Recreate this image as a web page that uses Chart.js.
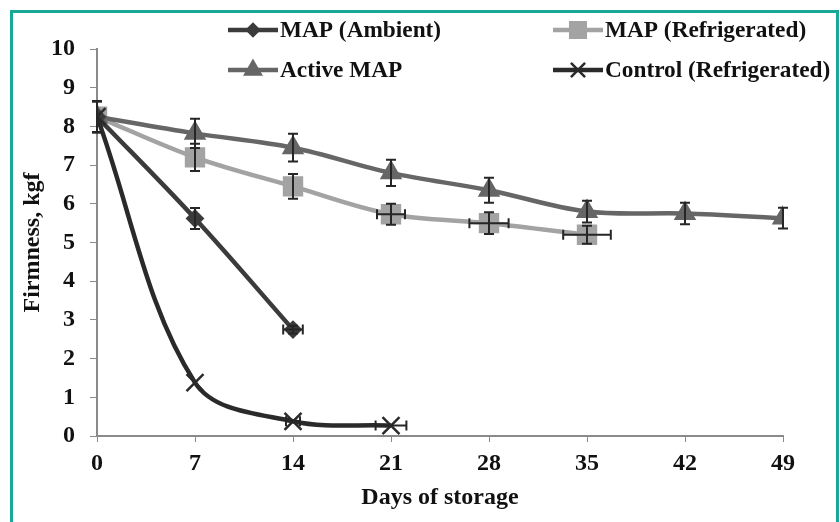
<!DOCTYPE html>
<html>
<head>
<meta charset="utf-8">
<script src="https://cdn.jsdelivr.net/npm/chart.js@4/dist/chart.umd.min.js"></script>
<style>
html,body{margin:0;padding:0;background:#fff;}
#wrap{position:relative;width:840px;height:522px;}
</style>
</head>
<body>
<div id="wrap"><canvas id="c" width="840" height="522"></canvas></div>
<script>
// ---- data ----
const xTicks = [0, 7, 14, 21, 28, 35, 42, 49];
const seriesNames = ["MAP (Ambient)", "MAP (Refrigerated)", "Active MAP", "Control (Refrigerated)"];

const ambientDays = [0, 7, 14];
const ambientFirm = [8.25, 5.62, 2.75];
const ambientYErr = [0.4, 0.27, 0.1];
const ambientXErr = [0, 0, 0.7];

const refrigDays = [0, 7, 14, 21, 28, 35];
const refrigFirm = [8.25, 7.2, 6.45, 5.73, 5.5, 5.2];
const refrigYErr = [0.4, 0.35, 0.32, 0.27, 0.28, 0.23];
const refrigXErr = [0, 0, 0, 1.0, 1.4, 1.7];

const activeDays = [0, 7, 14, 21, 28, 35, 42, 49];
const activeFirm = [8.25, 7.82, 7.45, 6.8, 6.35, 5.8, 5.75, 5.63];
const activeYErr = [0.4, 0.38, 0.36, 0.34, 0.32, 0.28, 0.28, 0.27];
const activeXErr = [0, 0, 0, 0, 0, 0, 0, 0];

const controlDays = [0, 7, 14, 21];
const controlFirm = [8.25, 1.38, 0.38, 0.27];
const controlYErr = [0.4, 0, 0, 0];
const controlXErr = [0, 0, 0.5, 1.1];

function pts(xs, ys) { return xs.map((x, i) => ({x: x, y: ys[i]})); }

const FONT = "'Liberation Serif', 'Times New Roman', serif";

const datasets = [
  {label: seriesNames[0], data: pts(ambientDays, ambientFirm), yErr: ambientYErr, xErr: ambientXErr,
   borderColor: '#3b3b3b', backgroundColor: '#3b3b3b', pointStyle: 'rectRot', pointRadius: 8, order: 1},
  {label: seriesNames[1], data: pts(refrigDays, refrigFirm), yErr: refrigYErr, xErr: refrigXErr,
   borderColor: '#a3a3a3', backgroundColor: '#a3a3a3', pointStyle: 'rect', pointRadius: 13, order: 3},
  {label: seriesNames[2], data: pts(activeDays, activeFirm), yErr: activeYErr, xErr: activeXErr,
   borderColor: '#666666', backgroundColor: '#666666', pointStyle: 'triangle', pointRadius: 11, order: 2},
  {label: seriesNames[3], data: pts(controlDays, controlFirm), yErr: controlYErr, xErr: controlXErr,
   borderColor: '#2a2a2a', backgroundColor: '#2a2a2a', pointStyle: 'crossRot', pointRadius: 12, order: 0}
];
datasets.forEach(d => {
  d.borderWidth = 4.5;
  d.pointBorderWidth = d.pointStyle === 'crossRot' ? 2.5 : 2;
  d.tension = 0.35;
  d.fill = false;
  d.pointBorderColor = d.borderColor;
  d.pointBackgroundColor = d.backgroundColor;
});

const errorBars = {
  id: 'errorBars',
  afterDatasetsDraw(chart) {
    const ctx = chart.ctx, xs = chart.scales.x, ys = chart.scales.y;
    ctx.save();
    ctx.strokeStyle = '#262626';
    ctx.lineWidth = 2;
    chart.data.datasets.forEach(ds => {
      ds.data.forEach((p, i) => {
        const px = xs.getPixelForValue(p.x), py = ys.getPixelForValue(p.y);
        const ye = ds.yErr[i] || 0, xe = ds.xErr[i] || 0;
        if (ye > 0) {
          const t = ys.getPixelForValue(p.y + ye), b = ys.getPixelForValue(p.y - ye);
          ctx.beginPath();
          ctx.moveTo(px, t); ctx.lineTo(px, b);
          ctx.moveTo(px - 5, t); ctx.lineTo(px + 5, t);
          ctx.moveTo(px - 5, b); ctx.lineTo(px + 5, b);
          ctx.stroke();
        }
        if (xe > 0) {
          const l = xs.getPixelForValue(p.x - xe), r = xs.getPixelForValue(p.x + xe);
          ctx.beginPath();
          ctx.moveTo(l, py); ctx.lineTo(r, py);
          ctx.moveTo(l, py - 5); ctx.lineTo(l, py + 5);
          ctx.moveTo(r, py - 5); ctx.lineTo(r, py + 5);
          ctx.stroke();
        }
      });
    });
    ctx.restore();
  }
};

const legendPos = [[228, 30], [553, 30], [228, 70], [553, 70]];
const customLegend = {
  id: 'customLegend',
  afterDraw(chart) {
    const ctx = chart.ctx;
    ctx.save();
    chart.data.datasets.forEach((ds, i) => {
      const [x, y] = legendPos[i];
      ctx.strokeStyle = ds.borderColor;
      ctx.lineWidth = 4.5;
      ctx.beginPath(); ctx.moveTo(x, y); ctx.lineTo(x + 50, y); ctx.stroke();
      const r = Math.max(6, ds.pointRadius - 2);
      ctx.fillStyle = ds.backgroundColor;
      ctx.strokeStyle = ds.borderColor;
      ctx.lineWidth = 2.5;
      if (Chart.helpers && Chart.helpers.drawPoint) {
        Chart.helpers.drawPoint(ctx, {pointStyle: ds.pointStyle, radius: r, borderWidth: 2.5, rotation: 0}, x + 25, y);
      }
      ctx.fillStyle = '#111';
      ctx.font = 'bold 23.3px ' + FONT;
      ctx.textAlign = 'left';
      ctx.textBaseline = 'middle';
      ctx.fillText(ds.label, x + 52, y + 1);
    });
    // teal frame
    ctx.strokeStyle = '#17a898';
    ctx.lineWidth = 3;
    ctx.strokeRect(11.5, 11.5, 826, 540);
    ctx.restore();
  }
};

new Chart(document.getElementById('c'), {
  type: 'line',
  data: {datasets: datasets},
  plugins: [errorBars, customLegend],
  options: {
    responsive: false,
    animation: false,
    devicePixelRatio: 1,
    layout: {padding: {left: 0, right: 57, top: 49, bottom: 0}},
    plugins: {legend: {display: false}, tooltip: {enabled: false}},
    scales: {
      x: {
        type: 'linear', min: 0, max: 49,
        afterBuildTicks: (s) => { s.ticks = xTicks.map(v => ({value: v})); },
        afterFit: (s) => { s.height = 86; },
        ticks: {color: '#111', font: {family: FONT, size: 24, weight: 'bold'}, padding: 7},
        grid: {display: true, drawOnChartArea: false, tickLength: 6, color: '#8a8a8a', lineWidth: 1},
        border: {display: true, color: '#8a8a8a', width: 2},
        title: {display: true, text: 'Days of storage', color: '#111',
                font: {family: FONT, size: 24, weight: 'bold'}, padding: {top: 4, bottom: 10}}
      },
      y: {
        min: 0, max: 10,
        ticks: {stepSize: 1, color: '#111', font: {family: FONT, size: 24, weight: 'bold'}, padding: 15},
        afterFit: (s) => { s.width = 97; },
        grid: {display: true, drawOnChartArea: false, tickLength: 7, color: '#8a8a8a', lineWidth: 1},
        border: {display: true, color: '#8a8a8a', width: 2},
        title: {display: true, text: 'Firmness, kgf', color: '#111',
                font: {family: FONT, size: 24, weight: 'bold'}, padding: {top: 18, bottom: 0}}
      }
    }
  }
});
</script>
</body>
</html>
